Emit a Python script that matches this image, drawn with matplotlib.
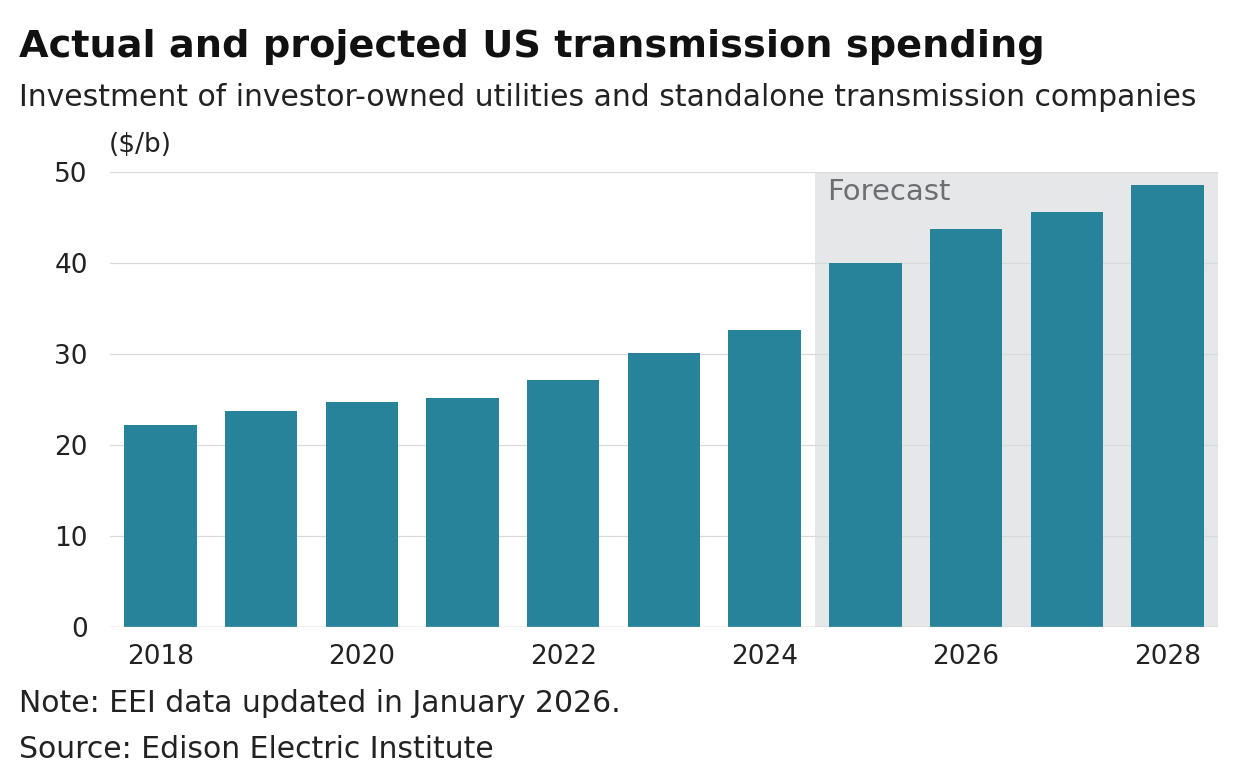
import matplotlib.pyplot as plt

years = [2018, 2019, 2020, 2021, 2022, 2023, 2024, 2025, 2026, 2027, 2028]
spending = [22.2, 23.7, 24.7, 25.2, 27.1, 30.1, 32.6, 40.0, 43.7, 45.6, 48.6]
xtick_years = [2018, 2020, 2022, 2024, 2026, 2028]
yticks = [0, 10, 20, 30, 40, 50]

plt.rcParams['font.family'] = ['DejaVu Sans']
txt = '#222222'

fig = plt.figure(figsize=(12.4, 7.82), dpi=100)
ax = fig.add_axes([0.0887, 0.198, 0.8935, 0.582])

ax.axvspan(2024.5, 2028.5, ymin=0, ymax=1, color='#e6e7e8', zorder=0, lw=0)
ax.text(2024.62, 47.8, 'Forecast', fontsize=21, color='#6d6e71', va='center')
ax.bar(years, spending, width=0.72, color='#26839a', zorder=3)

ax.set_xlim(2017.5, 2028.5)
ax.set_ylim(0, 50)
ax.set_yticks(yticks)
ax.set_xticks(xtick_years)
for y in yticks[1:]:
    ax.axhline(y, color='#d9d9d9', lw=0.9, zorder=1)
ax.axhline(0, color='#bbbbbb', lw=1, zorder=4)
for s in ax.spines.values():
    s.set_visible(False)
ax.tick_params(length=0, labelsize=19, colors=txt)
ax.tick_params(axis='y', pad=16)
ax.tick_params(axis='x', pad=12)

fig.text(0.015, 0.94, 'Actual and projected US transmission spending', fontsize=27.5,
         fontweight='bold', color='#111111', va='center')
fig.text(0.015, 0.875, 'Investment of investor-owned utilities and standalone transmission companies',
         fontsize=21.5, color=txt, va='center')
fig.text(0.088, 0.815, '($/b)', fontsize=19, color=txt, va='center')
fig.text(0.015, 0.10, 'Note: EEI data updated in January 2026.', fontsize=21.5, color=txt, va='center')
fig.text(0.015, 0.042, 'Source: Edison Electric Institute', fontsize=21.5, color=txt, va='center')

fig.savefig('out.png', dpi=100)
